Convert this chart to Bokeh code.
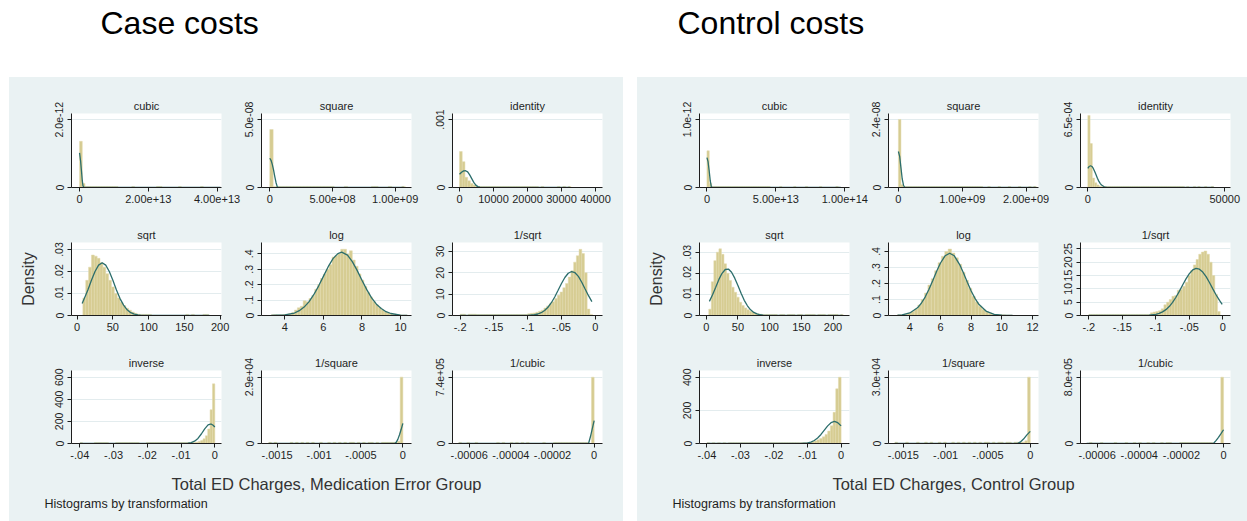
from bokeh.plotting import figure
from bokeh.layouts import row, column
from bokeh.models import Range1d, FixedTicker, Label, Spacer
from bokeh.embed import file_html
from bokeh.resources import INLINE

# ======================= DATA =======================
# Each subplot: histogram heights per bin (bin start, bin width), normal-curve points,
# tick positions and the tick labels shown. Values are in the scaled units noted.

TITLES = ["cubic", "square", "identity", "sqrt", "log", "1/sqrt", "inverse", "1/square", "1/cubic"]

# ---------------- Case group (Medication Error) ----------------
# cubic: x in 1e13, y in 1e-12
case_cubic_xticks = [0, 2, 4]
case_cubic_xlabels = ["0", "2.00e+13", "4.00e+13"]
case_cubic_yticks = [0, 2]
case_cubic_ylabels = ["0", "2.0e-12"]
case_cubic_bin = (0.0, 0.08)
case_cubic_hist = [1.36, 0.12, 0.03, 0.03, 0.03, 0.03, 0.03, 0.03, 0.03, 0.03, 0.03, 0.03, 0.03, 0.03,
                   0, 0, 0, 0, 0, 0.03, 0, 0, 0, 0, 0, 0, 0, 0, 0.03, 0.03,
                   0, 0, 0, 0, 0, 0, 0.03, 0, 0, 0, 0, 0, 0, 0, 0.03, 0, 0, 0, 0, 0, 0, 0]
case_cubic_cx = [0, 0.03, 0.06, 0.08, 0.10, 0.13, 4.1]
case_cubic_cy = [1.02, 0.78, 0.44, 0.2, 0.05, 0, 0]

# square: x in 1e8, y in 1e-8
case_square_xticks = [0, 5, 10]
case_square_xlabels = ["0", "5.00e+08", "1.00e+09"]
case_square_yticks = [0, 5]
case_square_ylabels = ["0", "5.0e-08"]
case_square_bin = (0.0, 0.27)
case_square_hist = [4.26, 0.08, 0.08, 0.08, 0.08, 0.08, 0.08, 0.08, 0.08, 0.08, 0.08, 0.08, 0.08, 0.08,
                    0.08, 0.08, 0.08, 0.08, 0.08, 0, 0, 0, 0.08, 0, 0, 0, 0, 0, 0, 0,
                    0.08, 0.08, 0, 0, 0, 0.08, 0, 0, 0, 0.08, 0]
case_square_cx = [0, 0.1, 0.2, 0.3, 0.4, 0.5, 0.6, 0.7, 10.7]
case_square_cy = [2.15, 2.0, 1.7, 1.3, 0.8, 0.35, 0.05, 0, 0]

# identity: x raw, y in 1e-4
case_ident_xticks = [0, 10000, 20000, 30000, 40000]
case_ident_xlabels = ["0", "10000", "20000", "30000", "40000"]
case_ident_yticks = [0, 10]
case_ident_ylabels = ["0", ".001"]
case_ident_bin = (0.0, 800.0)
case_ident_hist = [5.3, 3.8, 1.5, 1.0, 0.6, 0.35, 0.2, 0.15, 0.15, 0.15,
                   0.15, 0.15, 0.15, 0.15, 0.15, 0.15, 0.15, 0.15, 0.15, 0.15,
                   0.15, 0.15, 0.15, 0.15, 0.15, 0.15, 0.15, 0.15, 0.15, 0,
                   0.15, 0, 0, 0, 0, 0, 0.15, 0, 0.15, 0, 0.15]
case_ident_cx = [0, 600, 1200, 1800, 2400, 3000, 3600, 4200, 4800, 5400, 6000, 7000, 32500]
case_ident_cy = [1.95, 2.25, 2.45, 2.47, 2.3, 1.85, 1.3, 0.75, 0.35, 0.13, 0.04, 0, 0]

# sqrt: x raw, y in 0.01
case_sqrt_xticks = [0, 50, 100, 150, 200]
case_sqrt_xlabels = ["0", "50", "100", "150", "200"]
case_sqrt_yticks = [0, 1, 2, 3]
case_sqrt_ylabels = ["0", ".01", ".02", ".03"]
case_sqrt_bin = (8.0, 4.0)
case_sqrt_hist = [0.8, 1.6, 2.2, 2.75, 2.7, 2.6, 2.4, 2.2, 1.9, 1.6, 1.3, 1.0, 0.8, 0.6, 0.45, 0.33,
                  0.24, 0.16, 0.1, 0.06, 0.05, 0.05, 0.05, 0.05, 0, 0, 0, 0, 0, 0, 0, 0, 0, 0, 0, 0,
                  0.05, 0, 0.05, 0, 0, 0, 0.05, 0.05]
case_sqrt_cx = [7, 10, 15, 20, 25, 30, 35, 40, 45, 50, 55, 60, 65, 70, 75, 80, 85, 90, 185]
case_sqrt_cy = [0.55, 0.77, 1.16, 1.6, 2.0, 2.29, 2.4, 2.29, 2.0, 1.6, 1.16, 0.77, 0.47, 0.26, 0.13,
                0.06, 0.026, 0.01, 0]

# log: raw
case_log_xticks = [4, 6, 8, 10]
case_log_xlabels = ["4", "6", "8", "10"]
case_log_yticks = [0, 0.1, 0.2, 0.3, 0.4]
case_log_ylabels = ["0", ".1", ".2", ".3", ".4"]
case_log_bin = (3.3, 0.15)
case_log_hist = [0.005, 0.005, 0.004, 0.005, 0.006, 0.008, 0.012, 0.02, 0.035, 0.05,
                 0.06, 0.095, 0.09, 0.11, 0.13, 0.17, 0.20, 0.24, 0.27, 0.30,
                 0.33, 0.38, 0.39, 0.40, 0.43, 0.43, 0.40, 0.42, 0.36, 0.32,
                 0.27, 0.23, 0.19, 0.15, 0.12, 0.09, 0.07, 0.05, 0.035, 0.025,
                 0.017, 0.012, 0.008, 0.005, 0.004, 0.003, 0.003]
case_log_cx = [3.3, 4.0, 4.5, 4.75, 5.0, 5.25, 5.5, 5.75, 6.0, 6.25, 6.5, 6.75, 6.95, 7.25, 7.5,
               7.75, 8.0, 8.25, 8.5, 8.75, 9.0, 9.25, 9.5, 10.0, 10.35]
case_log_cy = [0.0003, 0.0041, 0.016, 0.0314, 0.0547, 0.0885, 0.135, 0.191, 0.254, 0.317, 0.369,
               0.402, 0.411, 0.392, 0.35, 0.293, 0.229, 0.168, 0.114, 0.0734, 0.0453, 0.0248,
               0.0129, 0.0029, 0.0007]

# 1/sqrt: raw
case_isqrt_xticks = [-0.2, -0.15, -0.1, -0.05, 0]
case_isqrt_xlabels = ["-.2", "-.15", "-.1", "-.05", "0"]
case_isqrt_yticks = [0, 10, 20, 30]
case_isqrt_ylabels = ["0", "10", "20", "30"]
case_isqrt_bin = (-0.2, 0.004)
case_isqrt_hist = [0.6, 0.6, 0, 0.6, 0.6, 0.6,
                   0.45, 0.45, 0.45, 0.45, 0.45, 0.45, 0.45, 0.45, 0.45, 0.45,
                   0.45, 0.45, 0.45, 0.45, 0.45, 0.45, 0.45, 0.45, 0.45,
                   0.8, 1.0, 1.2, 1.5, 2.0, 2.5, 3.5, 4.5, 5.5, 6.5, 8, 9.5, 11, 13, 15,
                   18, 21, 25, 28, 31, 29, 20, 3, 0.5, 0]
case_isqrt_cx = [-0.2, -0.1, -0.09, -0.085, -0.08, -0.075, -0.07, -0.065, -0.06, -0.055, -0.05,
                 -0.045, -0.04, -0.035, -0.03, -0.025, -0.02, -0.015, -0.01, -0.005]
case_isqrt_cy = [0, 0.07, 0.35, 0.7, 1.32, 2.33, 3.86, 5.99, 8.68, 11.8, 14.97, 17.8, 19.79, 20.6,
                 20.05, 18.3, 15.59, 12.4, 9.28, 6.48]

# inverse: raw
case_inv_xticks = [-0.04, -0.03, -0.02, -0.01, 0]
case_inv_xlabels = ["-.04", "-.03", "-.02", "-.01", "0"]
case_inv_yticks = [0, 200, 400, 600]
case_inv_ylabels = ["0", "200", "400", "600"]
case_inv_bin = (-0.0399, 0.0007)
case_inv_hist = [8, 0, 0, 0, 0, 0, 8, 8, 8, 8, 8, 8, 0, 0, 0,
                 8, 8, 8, 8, 8, 8, 8, 8, 8, 8, 0, 0, 0,
                 8, 8, 8, 8, 8, 8, 8, 8, 8, 8, 8, 8, 8, 8, 8, 8, 8, 8, 8, 8,
                 10, 12, 18, 28, 42, 70, 131, 306, 540]
case_inv_cx = [-0.04, -0.012, -0.01, -0.009, -0.008, -0.007, -0.006, -0.005, -0.004, -0.003,
               -0.002, -0.0013, -0.001, -0.0005, 0]
case_inv_cy = [0, 0, 0.12, 0.6, 2.3, 7.6, 20.8, 46, 86, 133, 168, 176, 175, 165, 149]

# 1/square: x in 1e-4, y in 1e4
case_isq_xticks = [-15, -10, -5, 0]
case_isq_xlabels = ["-.0015", "-.001", "-.0005", "0"]
case_isq_yticks = [0, 2.9]
case_isq_ylabels = ["0", "2.9e+04"]
case_isq_bin = (-16.0, 0.32)
case_isq_hist = [0.05, 0, 0.05, 0, 0, 0, 0, 0, 0.05, 0,
                 0.05, 0, 0.05, 0, 0.05, 0, 0.05, 0, 0, 0.05,
                 0, 0, 0.05, 0, 0.05, 0, 0.05, 0, 0.05, 0,
                 0.05, 0.05, 0, 0.05, 0, 0.05, 0, 0.05, 0.05, 0,
                 0.05, 0, 0.05, 0.05, 0.05, 0.05, 0.05, 0.05, 0.1, 2.9]
case_isq_cx = [-16, -1.0, -0.8, -0.6, -0.4, -0.2, 0]
case_isq_cy = [0, 0, 0.05, 0.18, 0.38, 0.62, 0.88]

# 1/cubic: x in 1e-5, y in 1e5
case_icub_xticks = [-6, -4, -2, 0]
case_icub_xlabels = ["-.00006", "-.00004", "-.00002", "0"]
case_icub_yticks = [0, 7.4]
case_icub_ylabels = ["0", "7.4e+05"]
case_icub_bin = (-6.5, 0.13)
case_icub_hist = [0.12, 0, 0, 0.12, 0, 0, 0.12, 0, 0, 0,
                  0, 0, 0, 0, 0.12, 0, 0.12, 0, 0, 0.12,
                  0, 0.12, 0, 0.12, 0, 0.12, 0, 0, 0, 0,
                  0, 0.12, 0, 0, 0, 0.12, 0.12, 0.12, 0.12, 0.12,
                  0.12, 0.12, 0.12, 0.12, 0.12, 0.12, 0.12, 0.12, 0, 7.4]
case_icub_cx = [-6.5, -0.27, -0.18, -0.09, 0]
case_icub_cy = [0, 0, 0.75, 1.65, 2.55]

# ---------------- Control group ----------------
ctrl_cubic_xticks = [0, 5, 10]
ctrl_cubic_xlabels = ["0", "5.00e+13", "1.00e+14"]
ctrl_cubic_yticks = [0, 1]
ctrl_cubic_ylabels = ["0", "1.0e-12"]
ctrl_cubic_bin = (0.0, 0.17)
ctrl_cubic_hist = [0.54, 0.06, 0.015, 0.015, 0.015, 0.015, 0.015, 0.015, 0.015, 0.015,
                   0.015, 0.015, 0.015, 0.015, 0.015, 0.015, 0.015, 0.015, 0.015, 0.015,
                   0.015, 0.015, 0.015, 0.015, 0.015, 0.015, 0.015, 0, 0, 0,
                   0, 0.015, 0, 0, 0, 0, 0, 0.015, 0, 0,
                   0, 0, 0.015, 0, 0, 0, 0, 0, 0.015, 0,
                   0, 0, 0, 0, 0, 0.015, 0]
ctrl_cubic_cx = [0, 0.08, 0.16, 0.24, 0.32, 0.4, 9.7]
ctrl_cubic_cy = [0.44, 0.38, 0.25, 0.10, 0.01, 0, 0]

ctrl_square_xticks = [0, 1, 2]
ctrl_square_xlabels = ["0", "1.00e+09", "2.00e+09"]
ctrl_square_yticks = [0, 2.4]
ctrl_square_ylabels = ["0", "2.4e-08"]
ctrl_square_bin = (0.0, 0.04)
ctrl_square_hist = [2.4, 0.1, 0.035, 0.035, 0.035, 0.035, 0.035, 0.035, 0.035, 0.035,
                    0.035, 0.035, 0.035, 0.035, 0.035, 0.035, 0.035, 0.035, 0.035, 0.035,
                    0.035, 0.035, 0.035, 0.035, 0.035, 0.035, 0.035, 0.035, 0.035, 0.035,
                    0.035, 0.035, 0.035, 0, 0, 0.035, 0, 0, 0, 0.035,
                    0, 0, 0, 0.035, 0, 0, 0, 0.035, 0, 0,
                    0, 0.035, 0, 0.035]
ctrl_square_cx = [0, 0.02, 0.04, 0.06, 0.08, 0.1, 2.15]
ctrl_square_cy = [1.27, 1.1, 0.7, 0.3, 0.08, 0, 0]

ctrl_ident_xticks = [0, 50000]
ctrl_ident_xlabels = ["0", "50000"]
ctrl_ident_yticks = [0, 6.5]
ctrl_ident_ylabels = ["0", "6.5e-04"]
ctrl_ident_bin = (0.0, 820.0)
ctrl_ident_hist = [6.9, 4.2, 0.9, 0.45, 0.25, 0.12, 0.1, 0.1, 0.1, 0.1,
                   0.1, 0.1, 0.1, 0.1, 0.1, 0.1, 0.1, 0.1, 0.1, 0.1,
                   0.1, 0.1, 0.1, 0.1, 0.1, 0.1, 0.1, 0.1, 0.1, 0.1,
                   0.1, 0.1, 0.1, 0.1, 0.1, 0.1, 0.1, 0.1, 0.1, 0.1,
                   0.1, 0.1, 0.1, 0, 0.1, 0, 0, 0.1, 0, 0.1,
                   0, 0, 0.1, 0, 0, 0.1]
ctrl_ident_cx = [0, 500, 1000, 1500, 2000, 2500, 3000, 3500, 4000, 4500, 5000, 6000, 7000, 46000]
ctrl_ident_cy = [1.82, 2.01, 2.08, 2.01, 1.82, 1.53, 1.21, 0.89, 0.61, 0.4, 0.236, 0.07, 0.016, 0]

ctrl_sqrt_xticks = [0, 50, 100, 150, 200]
ctrl_sqrt_xlabels = ["0", "50", "100", "150", "200"]
ctrl_sqrt_yticks = [0, 1, 2, 3]
ctrl_sqrt_ylabels = ["0", ".01", ".02", ".03"]
ctrl_sqrt_bin = (4.0, 4.0)
ctrl_sqrt_hist = [0.3, 1.6, 2.6, 3.0, 3.16, 2.9, 2.45, 2.0, 1.66, 1.34, 1.1, 0.87, 0.63, 0.47, 0.36,
                  0.27, 0.2, 0.16, 0.11, 0.08, 0.06, 0.05, 0.05, 0.05,
                  0.05, 0.05, 0.05, 0, 0.05, 0.05, 0, 0.05, 0.05, 0.05,
                  0, 0.05, 0.05, 0, 0.05, 0.05, 0.05, 0.05, 0, 0.05,
                  0.05, 0.05, 0, 0.05, 0.05, 0.05, 0.05, 0, 0.05]
ctrl_sqrt_cx = [5, 10, 15, 20, 25, 30, 35, 40, 45, 50, 55, 60, 65, 70, 75, 80, 85, 90, 100, 215]
ctrl_sqrt_cy = [0.67, 0.98, 1.34, 1.71, 2.0, 2.18, 2.2, 2.05, 1.77, 1.42, 1.05, 0.72, 0.46, 0.27,
                0.147, 0.074, 0.035, 0.015, 0.002, 0]

ctrl_log_xticks = [4, 6, 8, 10, 12]
ctrl_log_xlabels = ["4", "6", "8", "10", "12"]
ctrl_log_yticks = [0, 0.1, 0.2, 0.3, 0.4]
ctrl_log_ylabels = ["0", ".1", ".2", ".3", ".4"]
ctrl_log_bin = (3.2, 0.22)
ctrl_log_hist = [0.004, 0.005, 0.008, 0.014, 0.025, 0.04, 0.065, 0.10, 0.14, 0.19,
                 0.23, 0.28, 0.33, 0.37, 0.40, 0.415, 0.39, 0.36, 0.32, 0.27,
                 0.22, 0.17, 0.12, 0.085, 0.058, 0.037, 0.023, 0.014, 0.008, 0.006,
                 0.005, 0.004, 0.003, 0.003]
ctrl_log_cx = [3.2, 3.5, 4.0, 4.5, 4.75, 5.0, 5.25, 5.5, 5.75, 6.0, 6.3, 6.6, 6.9, 7.25, 7.5, 7.75,
               8.0, 8.25, 8.5, 9.0, 9.5, 10.0, 10.7]
ctrl_log_cy = [0.0016, 0.004, 0.0157, 0.048, 0.0766, 0.1153, 0.164, 0.219, 0.276, 0.328, 0.373,
               0.389, 0.373, 0.318, 0.265, 0.208, 0.153, 0.107, 0.07, 0.0252, 0.0072, 0.0016, 0.0001]

ctrl_isqrt_xticks = [-0.2, -0.15, -0.1, -0.05, 0]
ctrl_isqrt_xlabels = ["-.2", "-.15", "-.1", "-.05", "0"]
ctrl_isqrt_yticks = [0, 5, 10, 15, 20, 25]
ctrl_isqrt_ylabels = ["0", "5", "10", "15", "20", "25"]
ctrl_isqrt_bin = (-0.2, 0.004)
ctrl_isqrt_hist = [0.4, 0.4, 0.4, 0.4, 0.4, 0.4, 0.4, 0.4, 0.4, 0.4,
                   0.4, 0.4, 0.4, 0.4, 0.4, 0.4, 0.4, 0.4, 0.4, 0.4, 0.4, 0.4, 0.4,
                   1.0, 1.3, 1.5, 1.8, 2.5, 4.0, 5.0, 6.0, 7.2, 7.5, 9.5, 9.8, 11.0, 12.5,
                   15.0, 17.0, 19.0, 21.0, 23.0, 23.8, 24.2, 23.0, 20.0, 15.0, 8.0, 1.5, 0]
ctrl_isqrt_cx = [-0.2, -0.11, -0.1, -0.095, -0.09, -0.085, -0.08, -0.075, -0.07, -0.065, -0.06,
                 -0.055, -0.05, -0.045, -0.04, -0.035, -0.03, -0.025, -0.02, -0.015, -0.01,
                 -0.005, -0.001]
ctrl_isqrt_cy = [0, 0.12, 0.45, 0.8, 1.36, 2.19, 3.36, 4.92, 6.85, 9.07, 11.45, 13.75, 15.7, 17.1,
                 17.68, 17.4, 16.3, 14.6, 12.4, 10.0, 7.7, 5.7, 4.2]

ctrl_inv_xticks = [-0.04, -0.03, -0.02, -0.01, 0]
ctrl_inv_xlabels = ["-.04", "-.03", "-.02", "-.01", "0"]
ctrl_inv_yticks = [0, 200, 400]
ctrl_inv_ylabels = ["0", "200", "400"]
ctrl_inv_bin = (-0.04, 0.0008)
ctrl_inv_hist = [5, 0, 5, 0, 5, 0, 5, 0, 5,
                 5, 5, 5, 5, 5, 5, 5, 5, 5, 5, 5, 5, 5, 5, 5, 5, 5, 5, 5, 5, 5, 5, 5, 5, 5, 5, 5, 5, 5,
                 7, 10, 15, 22, 30, 40, 55, 75, 107, 188, 330, 400]
ctrl_inv_cx = [-0.04, -0.014, -0.012, -0.010, -0.009, -0.008, -0.007, -0.006, -0.005, -0.004,
               -0.003, -0.002, -0.001, 0]
ctrl_inv_cy = [0, 0.05, 0.52, 3.8, 8.75, 18, 33.2, 54.7, 80.7, 106.5, 125.8, 133, 125.8, 106.5]

ctrl_isq_xticks = [-15, -10, -5, 0]
ctrl_isq_xlabels = ["-.0015", "-.001", "-.0005", "0"]
ctrl_isq_yticks = [0, 3.0]
ctrl_isq_ylabels = ["0", "3.0e+04"]
ctrl_isq_bin = (-16.0, 0.32)
ctrl_isq_hist = [0.06, 0, 0, 0, 0.06, 0, 0, 0, 0.06, 0,
                 0, 0.06, 0, 0.06, 0, 0, 0.06, 0, 0.06, 0,
                 0, 0.06, 0, 0.06, 0, 0.06, 0, 0.06, 0, 0.06,
                 0, 0.06, 0, 0.06, 0.06, 0, 0.06, 0, 0.06, 0.06,
                 0, 0.06, 0.06, 0, 0.06, 0.06, 0.06, 0.06, 0.12, 3.0]
ctrl_isq_cx = [-16, -1.56, -1.2, -0.8, -0.4, 0]
ctrl_isq_cy = [0, 0, 0.06, 0.2, 0.39, 0.55]

ctrl_icub_xticks = [-6, -4, -2, 0]
ctrl_icub_xlabels = ["-.00006", "-.00004", "-.00002", "0"]
ctrl_icub_yticks = [0, 8.0]
ctrl_icub_ylabels = ["0", "8.0e+05"]
ctrl_icub_bin = (-6.5, 0.13)
ctrl_icub_hist = [0, 0.12, 0, 0, 0, 0.12, 0, 0, 0, 0,
                  0.12, 0, 0, 0, 0.12, 0, 0, 0.12, 0, 0.12,
                  0, 0, 0.12, 0, 0.12, 0, 0, 0.12, 0, 0.12,
                  0.12, 0, 0, 0, 0.12, 0.12, 0.12, 0.12, 0.12, 0.12,
                  0.12, 0.12, 0.12, 0.12, 0.12, 0.12, 0, 0, 0, 8.0]
ctrl_icub_cx = [-6.5, -0.48, -0.36, -0.24, -0.12, 0]
ctrl_icub_cy = [0, 0, 0.35, 0.75, 1.2, 1.66]

# ======================= LAYOUT / STYLE =======================
BG = "#EAF2F3"
BAR = "#D6CC92"
BAR_EDGE = "#E2DBAE"
CURVE = "#2C6E6C"
INK = "#1E1E1E"
GRID = "#E3ECEE"
FONT = "Liberation Sans"
FW = 150

# visible axis extents (scaled units) per subplot
CASE_RANGES = [((-0.234, 4.13), 2.18), ((-0.66, 11.3), 5.44), ((-2060, 42060), 10.89),
               ((-7.9, 202), 3.32), ((2.79, 10.57), 0.474), ((-0.2113, 0.0107), 34.2),
               ((-0.04246, 0.00198), 661), ((-16.86, 1.03), 3.19), ((-6.8, 0.4), 8.15)]
CTRL_RANGES = [((-0.54, 10.34), 1.089), ((-0.155, 2.195), 2.61), ((-2680, 52100), 7.08),
               ((-10.6, 226), 3.46), ((2.61, 12.39), 0.456), ((-0.2124, 0.0114), 27.4),
               ((-0.0422, 0.0025), 440.6), ((-16.75, 0.97), 3.3), ((-6.79, 0.33), 8.81)]

ROWS = [(36, 74, 26), (29, 73, 30), (25, 73, 25)]          # top border, frame h, bottom border
STRIP_H = 53
CASE_COLS = [(62, 20), (20, 21), (20, 21)]                 # left border, right border
CTRL_COLS = [(62, 20), (19, 22), (20, 17)]
TOP_H = 77
LEFT_PAD = 9
GAP = 14
BG_STYLE = {"background-color": BG}


def sub(title, rng, ytop, xt, xl, yt, yl, binspec, hist, cx, cy, L, R, T, FH, B, ylabel=None):
    p = figure(width=L + FW + R, height=T + FH + B, x_range=Range1d(rng[0], rng[1]),
               y_range=Range1d(0, ytop), title=title, output_backend="svg",
               toolbar_location=None, min_border_left=L, min_border_right=R,
               min_border_top=T, min_border_bottom=B, styles=BG_STYLE)
    p.background_fill_color = "white"
    p.border_fill_color = BG
    p.outline_line_color = None
    p.title.align = "center"
    p.title.text_font = FONT
    p.title.text_font_size = "11px"
    p.title.text_font_style = "normal"
    p.title.text_color = INK
    p.title.standoff = 4
    b0, bw = binspec
    lefts, rights, tops = [], [], []
    for i, h in enumerate(hist):
        if h > 0:
            lefts.append(b0 + i * bw)
            rights.append(b0 + (i + 1) * bw)
            tops.append(h)
    p.quad(left=lefts, right=rights, bottom=0, top=tops, fill_color=BAR,
           line_color=BAR_EDGE, line_width=0.5)
    p.line(cx, cy, line_color=CURVE, line_width=1.3)
    p.xgrid.visible = False
    p.ygrid.ticker = FixedTicker(ticks=yt)
    p.ygrid.grid_line_color = GRID
    p.xaxis.ticker = FixedTicker(ticks=xt)
    p.xaxis.major_label_overrides = {t: s for t, s in zip(xt, xl)}
    p.yaxis.ticker = FixedTicker(ticks=yt)
    p.yaxis.major_label_overrides = {t: s for t, s in zip(yt, yl)}
    p.yaxis.major_label_orientation = "vertical"
    for ax in list(p.xaxis) + list(p.yaxis):
        ax.axis_line_color = INK
        ax.axis_line_width = 1
        ax.major_tick_line_color = INK
        ax.major_tick_out = 4
        ax.major_tick_in = 0
        ax.minor_tick_line_color = None
        ax.major_label_text_font = FONT
        ax.major_label_text_color = INK
    p.xaxis.major_label_standoff = 3
    p.yaxis.major_label_standoff = 4
    p.xaxis.major_label_text_font_size = "11px"
    p.yaxis.major_label_text_font_size = "10.5px"
    if ylabel:
        p.yaxis.axis_label = ylabel
        p.yaxis.axis_label_text_font = FONT
        p.yaxis.axis_label_text_font_size = "16px"
        p.yaxis.axis_label_text_font_style = "normal"
        p.yaxis.axis_label_text_color = "#333333"
        p.yaxis.axis_label_standoff = 16
    return p


def strip(width, text, xc):
    p = figure(width=width, height=STRIP_H, x_range=Range1d(0, width), y_range=Range1d(STRIP_H, 0),
               x_axis_type=None, y_axis_type=None, output_backend="svg",
               toolbar_location=None, min_border=0, styles=BG_STYLE)
    p.grid.visible = False
    p.outline_line_color = None
    p.background_fill_color = BG
    p.border_fill_color = BG
    p.add_layout(Label(x=xc, y=15, text=text, text_align="center", text_baseline="middle",
                       text_font=FONT, text_font_size="16.5px", text_color="#333333"))
    p.add_layout(Label(x=35, y=35, text="Histograms by transformation", text_align="left",
                       text_baseline="middle", text_font=FONT, text_font_size="12.5px",
                       text_color=INK))
    return p


def panel(prefix, ranges, cols, xlabel, xc):
    g = globals()
    names = ["cubic", "square", "ident", "sqrt", "log", "isqrt", "inv", "isq", "icub"]
    rows = []
    for r in range(3):
        T, FH, B = ROWS[r]
        figs = []
        for c in range(3):
            k = r * 3 + c
            n = prefix + "_" + names[k]
            L, R = cols[c]
            rng, ytop = ranges[k]
            figs.append(sub(TITLES[k], rng, ytop, g[n + "_xticks"], g[n + "_xlabels"],
                            g[n + "_yticks"], g[n + "_ylabels"], g[n + "_bin"], g[n + "_hist"],
                            g[n + "_cx"], g[n + "_cy"], L, R, T, FH, B,
                            ylabel="Density" if k == 3 else None))
        rows.append(row(*figs, styles=BG_STYLE))
    width = sum(L + FW + R for L, R in cols)
    rows.append(strip(width, xlabel, xc))
    return column(*rows, styles=BG_STYLE)


TOTAL_W = 1247
PANEL_H = sum(t + f + b for t, f, b in ROWS) + STRIP_H

top = figure(width=TOTAL_W, height=TOP_H, x_range=Range1d(0, TOTAL_W), y_range=Range1d(TOP_H, 0),
             x_axis_type=None, y_axis_type=None, output_backend="svg",
             toolbar_location=None, min_border=0)
top.grid.visible = False
top.outline_line_color = None
top.background_fill_color = "white"
top.border_fill_color = "white"
top.add_layout(Label(x=100, y=22, text="Case costs", text_baseline="middle", text_font=FONT,
                     text_font_size="32px", text_color="black"))
top.add_layout(Label(x=677, y=22, text="Control costs", text_baseline="middle", text_font=FONT,
                     text_font_size="32px", text_color="black"))

left = panel("case", CASE_RANGES, CASE_COLS, "Total ED Charges, Medication Error Group", 317)
right = panel("ctrl", CTRL_RANGES, CTRL_COLS, "Total ED Charges, Control Group", 316)
layout = column(top, row(Spacer(width=LEFT_PAD, height=PANEL_H), left,
                         Spacer(width=GAP, height=PANEL_H), right))

open("out.html", "w").write(file_html(layout, INLINE))
